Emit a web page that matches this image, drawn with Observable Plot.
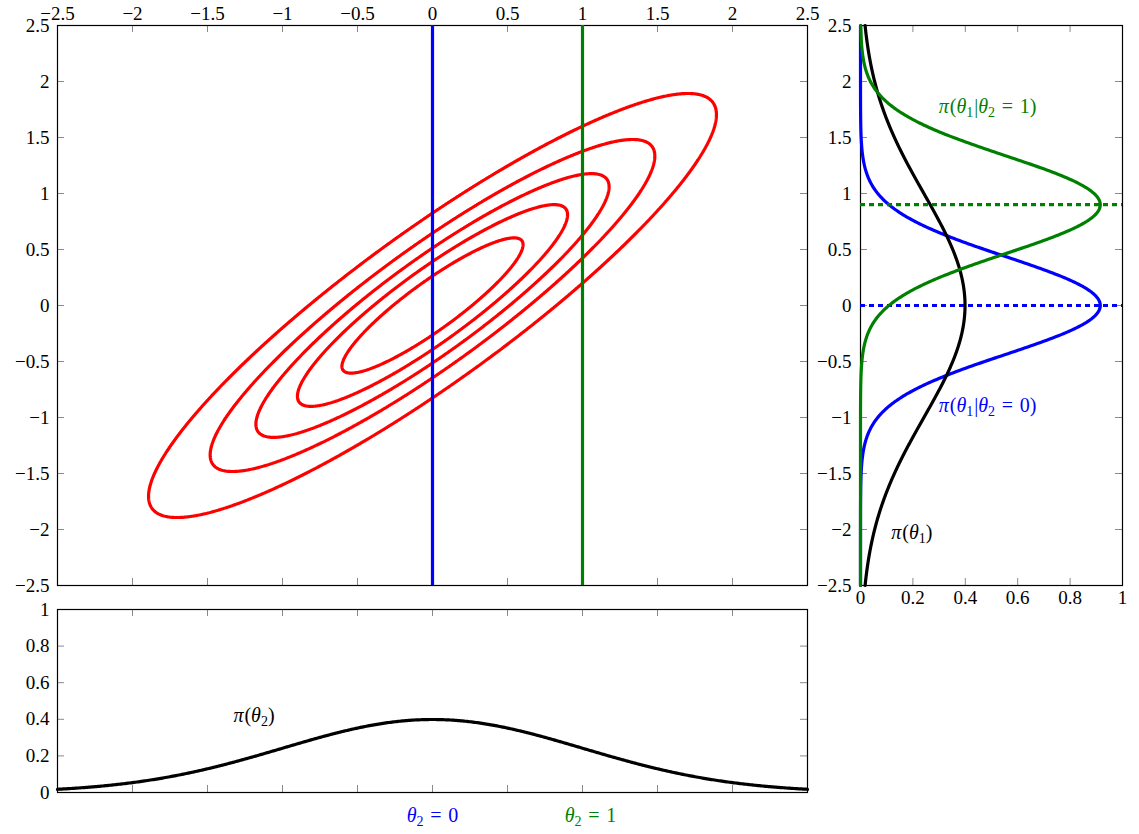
<!DOCTYPE html>
<html>
<head>
<meta charset="utf-8">
<script src="https://cdn.jsdelivr.net/npm/d3@7"></script>
<script src="https://cdn.jsdelivr.net/npm/@observablehq/plot@0.6"></script>
<style>
  body { margin: 0; background: #fff; }
  #fig { position: relative; width: 1139px; height: 834px; overflow: hidden; }
  #fig svg { position: absolute; left: 0; top: 0; }
</style>
</head>
<body>
<div id="fig"></div>
<script>
// Bivariate standard normal with correlation rho between theta1 and theta2
const rho = 0.9;
// theta2 values we condition on
const conditionValues = [0, 1];
// contour levels as fractions of the joint density's peak
const levelFractions = [1 / 6, 2 / 6, 3 / 6, 4 / 6, 5 / 6];

// tick values
const thetaTicks = [-2.5, -2, -1.5, -1, -0.5, 0, 0.5, 1, 1.5, 2, 2.5];
const densityTicks = [0, 0.2, 0.4, 0.6, 0.8, 1];

// curve labels: [text, x, y]
const labelMarginal2 = ["π(θ₂)", -1.19, 0.42];
const labelMarginal1 = ["π(θ₁)", 0.196, -2.03];
const labelCond0 = ["π(θ₁|θ₂ = 0)", 0.485, -0.89];
const labelCond1 = ["π(θ₁|θ₂ = 1)", 0.485, 1.78];
const sliceLabels = ["θ₂ = 0", "θ₂ = 1"];

const W = 1139, H = 834;
const FONT = "Liberation Serif";
const FS = 19;     // tick labels
const LFS = 20;    // curve labels
const TICK = 7;

const normal = (t, mu, s) => Math.exp(-((t - mu) ** 2) / (2 * s * s)) / (s * Math.sqrt(2 * Math.PI));
const condSd = Math.sqrt(1 - rho * rho);
const jointPeak = 1 / (2 * Math.PI * condSd);
const joint = (t2, t1) => jointPeak * Math.exp(-(t1 * t1 - 2 * rho * t1 * t2 + t2 * t2) / (2 * (1 - rho * rho)));
const thresholds = levelFractions.map((f) => f * jointPeak);
const grid = d3.range(-250, 251).map((i) => i / 100);

const fmt = (d) => (d < 0 ? "−" + Math.abs(d) : String(d));
const style = { background: "transparent", fontFamily: FONT, fontSize: FS + "px", color: "black", overflow: "visible" };
const axisStyle = { tickSize: 0, tickFormat: fmt, label: null, fill: "black", fontFamily: FONT, fontSize: FS };
const labelStyle = { fontFamily: FONT, fontSize: LFS };

// inward ticks on all four sides of a frame of inner size w x h
function innerTicks(xt, yt, w, h) {
  const o = { stroke: "#8a8a8a", strokeWidth: 1 };
  return [
    Plot.ruleX(xt, { x: (d) => d, insetBottom: h - TICK, ...o }),
    Plot.ruleX(xt, { x: (d) => d, insetTop: h - TICK, ...o }),
    Plot.ruleY(yt, { y: (d) => d, insetRight: w - TICK, ...o }),
    Plot.ruleY(yt, { y: (d) => d, insetLeft: w - TICK, ...o })
  ];
}

function label(l, color = "black") {
  return Plot.text([l], { x: (d) => d[1], y: (d) => d[2], text: (d) => d[0], fill: color, ...labelStyle });
}

// Set math-style text: italic Greek letters, lowered subscripts, wider spacing around "="
function richMath(svg) {
  const ns = "http://www.w3.org/2000/svg";
  for (const el of svg.querySelectorAll("text")) {
    const s = el.textContent;
    if (!/[πθ]/.test(s)) continue;
    el.textContent = "";
    let low = false;
    for (const ch of s) {
      const t = document.createElementNS(ns, "tspan");
      const k = "₀₁₂".indexOf(ch);
      if (k >= 0) {
        t.textContent = String(k);
        t.setAttribute("font-size", "14");
        if (!low) { t.setAttribute("dy", "4"); low = true; }
      } else {
        t.textContent = ch === " " ? "\u2004" : ch;
        if (low) { t.setAttribute("dy", "-4"); low = false; }
        if (ch === "π" || ch === "θ") t.setAttribute("font-style", "italic");
        if (ch === "(" || ch === "|") t.setAttribute("dx", "1");
      }
      el.appendChild(t);
    }
  }
  return svg;
}

// ---- main panel: joint density contours with the two theta2 slices
const mainM = { left: 57, right: W - 807, top: 25, bottom: H - 585 };
const mainPlot = Plot.plot({
  width: W, height: H,
  marginLeft: mainM.left, marginRight: mainM.right, marginTop: mainM.top, marginBottom: mainM.bottom,
  x: { domain: [-2.5, 2.5] },
  y: { domain: [-2.5, 2.5] },
  style,
  marks: [
    ...innerTicks(thetaTicks, thetaTicks, W - mainM.left - mainM.right, H - mainM.top - mainM.bottom),
    Plot.frame({ stroke: "black", strokeWidth: 1.2 }),
    Plot.axisX(thetaTicks, { anchor: "top", tickPadding: 6, ...axisStyle }),
    Plot.axisY(thetaTicks, { anchor: "left", tickPadding: 8, ...axisStyle }),
    Plot.contour({
      value: joint, x1: -2.5, x2: 2.5, y1: -2.5, y2: 2.5,
      thresholds, pixelSize: 1, fill: "none", stroke: "red", strokeWidth: 3.2
    }),
    Plot.ruleX([conditionValues[0]], { x: (d) => d, stroke: "blue", strokeWidth: 3.2 }),
    Plot.ruleX([conditionValues[1]], { x: (d) => d, stroke: "green", strokeWidth: 3.2 })
  ]
});

// ---- bottom panel: marginal of theta2
const botM = { left: 57, right: W - 807, top: 609, bottom: H - 792 };
const bottomPlot = Plot.plot({
  width: W, height: H,
  marginLeft: botM.left, marginRight: botM.right, marginTop: botM.top, marginBottom: botM.bottom,
  x: { domain: [-2.5, 2.5], axis: null },
  y: { domain: [0, 1] },
  style,
  marks: [
    ...innerTicks(thetaTicks, densityTicks, W - botM.left - botM.right, H - botM.top - botM.bottom),
    Plot.frame({ stroke: "black", strokeWidth: 1.2 }),
    Plot.axisY(densityTicks, { anchor: "left", tickPadding: 8, ...axisStyle }),
    Plot.line(grid, { x: (t) => t, y: (t) => normal(t, 0, 1), stroke: "black", strokeWidth: 3.2 }),
    label(labelMarginal2),
    Plot.text([conditionValues[0]], { x: (d) => d, frameAnchor: "bottom", dy: 29, text: () => sliceLabels[0], fill: "blue", ...labelStyle }),
    Plot.text([conditionValues[1]], { x: (d) => d, frameAnchor: "bottom", dy: 29, dx: 8, text: () => sliceLabels[1], fill: "green", ...labelStyle })
  ]
});

// ---- right panel: marginal and conditionals of theta1
const rightM = { left: 860, right: W - 1122, top: 25, bottom: H - 585 };
const rightPlot = Plot.plot({
  width: W, height: H,
  marginLeft: rightM.left, marginRight: rightM.right, marginTop: rightM.top, marginBottom: rightM.bottom,
  x: { domain: [0, 1] },
  y: { domain: [-2.5, 2.5] },
  style,
  marks: [
    ...innerTicks(densityTicks, thetaTicks, W - rightM.left - rightM.right, H - rightM.top - rightM.bottom),
    Plot.frame({ stroke: "black", strokeWidth: 1.2 }),
    Plot.axisX(densityTicks, { anchor: "bottom", tickPadding: 5, ...axisStyle }),
    Plot.axisY(thetaTicks, { anchor: "left", tickPadding: 9, ...axisStyle }),
    Plot.line(grid, { x: (t) => normal(t, rho * conditionValues[0], condSd), y: (t) => t, stroke: "blue", strokeWidth: 3.2 }),
    Plot.ruleY([rho * conditionValues[0]], { y: (d) => d, stroke: "blue", strokeWidth: 3.2, strokeDasharray: "5,4" }),
    Plot.line(grid, { x: (t) => normal(t, 0, 1), y: (t) => t, stroke: "black", strokeWidth: 3.2 }),
    Plot.line(grid, { x: (t) => normal(t, rho * conditionValues[1], condSd), y: (t) => t, stroke: "green", strokeWidth: 3.2 }),
    Plot.ruleY([rho * conditionValues[1]], { y: (d) => d, stroke: "green", strokeWidth: 3.2, strokeDasharray: "5,4" }),
    label(labelCond1, "green"),
    label(labelCond0, "blue"),
    label(labelMarginal1)
  ]
});

const fig = document.getElementById("fig");
for (const p of [mainPlot, bottomPlot, rightPlot]) fig.appendChild(richMath(p));
</script>
</body>
</html>
